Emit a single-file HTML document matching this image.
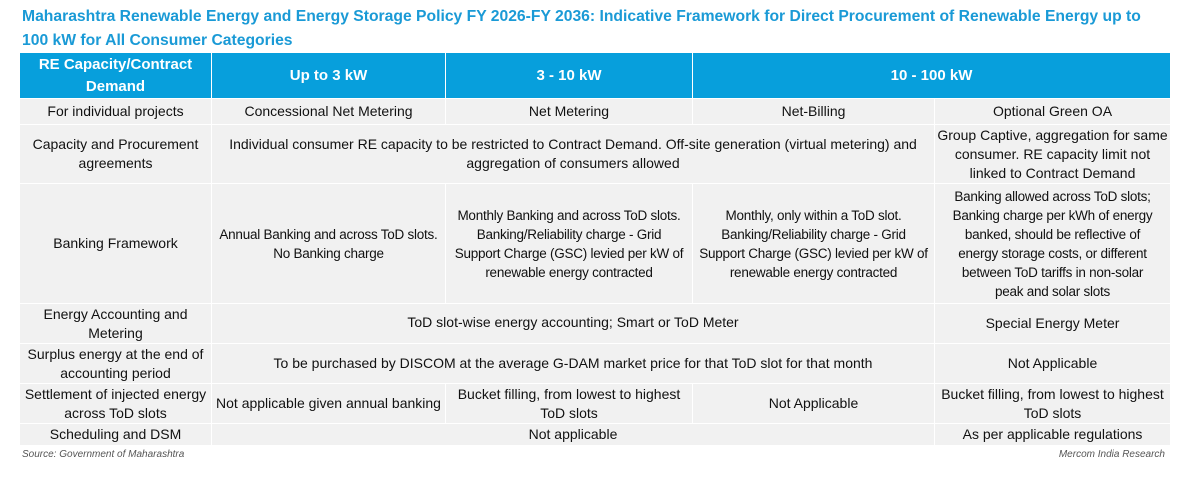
<!DOCTYPE html>
<html><head><meta charset="utf-8"><style>
body{margin:0;width:1187px;height:485px;background:#fff;font-family:"Liberation Sans",sans-serif;position:relative;overflow:hidden}
.t{position:absolute;left:22px;top:5px;width:1160px;color:#1a9ad6;font-weight:bold;font-size:15.7px;line-height:24px;white-space:nowrap}
table{position:absolute;left:19px;top:52px;border-collapse:collapse;table-layout:fixed;width:1151px}
td,th{border:1px solid #fff;text-align:center;vertical-align:middle;padding:0;font-size:14px;line-height:19px;color:#111;background:#f1f1f1;overflow:hidden;white-space:nowrap}
th{background:#079fdc;color:#fff;font-size:15px;font-weight:bold;line-height:22px}
.b td{font-size:13.5px;letter-spacing:-0.25px}
.s{position:absolute;top:449px;font-size:10px;font-style:italic;color:#555}
</style></head><body>
<div class="t">Maharashtra Renewable Energy and Energy Storage Policy FY 2026-FY 2036: Indicative Framework for Direct Procurement of Renewable Energy up to<br>100 kW for All Consumer Categories</div>
<table>
<colgroup><col style="width:192px"><col style="width:234px"><col style="width:247px"><col style="width:242px"><col style="width:236px"></colgroup>
<tr style="height:46px"><th>RE Capacity/Contract<br>Demand</th><th>Up to 3 kW</th><th>3 - 10 kW</th><th colspan="2">10 - 100 kW</th></tr>
<tr style="height:26px"><td>For individual projects</td><td>Concessional Net Metering</td><td>Net Metering</td><td>Net-Billing</td><td>Optional Green OA</td></tr>
<tr style="height:59px"><td>Capacity and Procurement<br>agreements</td><td colspan="3">Individual consumer RE capacity to be restricted to Contract Demand. Off-site generation (virtual metering) and<br>aggregation of consumers allowed</td><td>Group Captive, aggregation for same<br>consumer. RE capacity limit not<br>linked to Contract Demand</td></tr>
<tr style="height:120px" class="b"><td style="font-size:14px;letter-spacing:0">Banking Framework</td><td>Annual Banking and across ToD slots.<br>No Banking charge</td><td>Monthly Banking and across ToD slots.<br>Banking/Reliability charge - Grid<br>Support Charge (GSC) levied per kW of<br>renewable energy contracted</td><td>Monthly, only within a ToD slot.<br>Banking/Reliability charge - Grid<br>Support Charge (GSC) levied per kW of<br>renewable energy contracted</td><td>Banking allowed across ToD slots;<br>Banking charge per kWh of energy<br>banked, should be reflective of<br>energy storage costs, or different<br>between ToD tariffs in non-solar<br>peak and solar slots</td></tr>
<tr style="height:40px"><td>Energy Accounting and<br>Metering</td><td colspan="3" style="vertical-align:top;padding-top:9px">ToD slot-wise energy accounting; Smart or ToD Meter</td><td>Special Energy Meter</td></tr>
<tr style="height:40px"><td>Surplus energy at the end of<br>accounting period</td><td colspan="3">To be purchased by DISCOM at the average G-DAM market price for that ToD slot for that month</td><td>Not Applicable</td></tr>
<tr style="height:40px"><td>Settlement of injected energy<br>across ToD slots</td><td>Not applicable given annual banking</td><td>Bucket filling, from lowest to highest<br>ToD slots</td><td>Not Applicable</td><td>Bucket filling, from lowest to highest<br>ToD slots</td></tr>
<tr style="height:22px"><td>Scheduling and DSM</td><td colspan="3">Not applicable</td><td>As per applicable regulations</td></tr>
</table>
<div class="s" style="left:22px">Source: Government of Maharashtra</div>
<div class="s" style="right:22px">Mercom India Research</div>
</body></html>
